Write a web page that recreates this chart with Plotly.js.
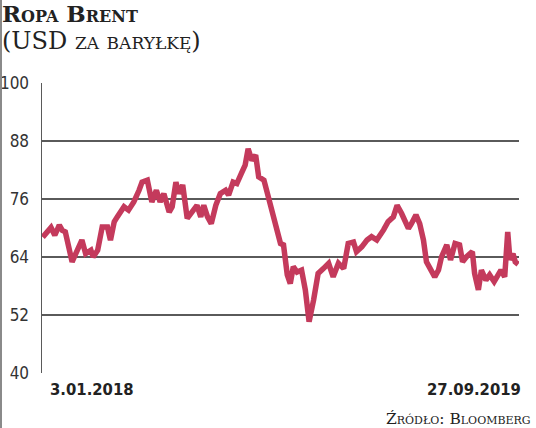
<!DOCTYPE html>
<html>
<head>
<meta charset="utf-8">
<script src="https://cdn.plot.ly/plotly-3.0.1.min.js"></script>
<style>
  html, body { margin: 0; padding: 0; background: #fff; }
  #chart { width: 536px; height: 428px; }
</style>
</head>
<body>
<div id="chart"></div>
<script>
// Brent crude, USD per barrel
var dates = [
  '2018-01-03', '2018-01-14', '2018-01-19', '2018-01-25', '2018-01-29', '2018-02-02',
  '2018-02-11', '2018-02-17', '2018-02-24', '2018-03-01', '2018-03-08', '2018-03-11',
  '2018-03-17', '2018-03-23', '2018-03-30', '2018-04-03', '2018-04-08', '2018-04-12',
  '2018-04-21', '2018-04-27', '2018-05-04', '2018-05-11', '2018-05-15', '2018-05-22',
  '2018-05-28', '2018-06-03', '2018-06-08', '2018-06-13', '2018-06-20', '2018-06-24',
  '2018-06-29', '2018-07-03', '2018-07-08', '2018-07-14', '2018-07-21', '2018-07-27',
  '2018-08-01', '2018-08-05', '2018-08-10', '2018-08-15', '2018-08-21', '2018-08-27',
  '2018-09-03', '2018-09-07', '2018-09-13', '2018-09-18', '2018-09-24', '2018-09-29',
  '2018-10-03', '2018-10-08', '2018-10-13', '2018-10-17', '2018-10-24', '2018-10-30',
  '2018-11-06', '2018-11-10', '2018-11-15', '2018-11-19', '2018-11-24', '2018-11-28',
  '2018-12-02', '2018-12-07', '2018-12-13', '2018-12-18', '2018-12-23', '2018-12-29',
  '2019-01-04', '2019-01-11', '2019-01-18', '2019-01-24', '2019-01-31', '2019-02-07',
  '2019-02-13', '2019-02-20', '2019-02-24', '2019-03-03', '2019-03-10', '2019-03-16',
  '2019-03-23', '2019-04-01', '2019-04-07', '2019-04-14', '2019-04-19', '2019-04-25',
  '2019-04-30', '2019-05-04', '2019-05-08', '2019-05-14', '2019-05-19', '2019-05-24',
  '2019-05-28', '2019-06-02', '2019-06-08', '2019-06-13', '2019-06-17', '2019-06-24',
  '2019-06-29', '2019-07-05', '2019-07-11', '2019-07-15', '2019-07-20', '2019-07-28',
  '2019-07-31', '2019-08-05', '2019-08-09', '2019-08-15', '2019-08-20', '2019-08-26',
  '2019-08-31', '2019-09-04', '2019-09-09', '2019-09-13', '2019-09-16', '2019-09-20',
  '2019-09-23', '2019-09-27'
];
var prices = [
  68.1, 70.1, 68.5, 70.6, 69.5, 69.2,
  63.0, 65.4, 67.5, 64.7, 65.4, 64.0,
  65.4, 70.2, 70.2, 67.5, 71.3, 72.3,
  74.4, 73.7, 75.4, 77.8, 79.5, 79.9,
  75.4, 77.8, 75.4, 77.1, 73.3, 74.4,
  79.5, 77.1, 78.9, 72.0, 73.3, 74.7,
  72.3, 74.7, 72.3, 70.9, 74.7, 77.1,
  77.8, 76.8, 79.5, 79.2, 81.3, 83.0,
  86.4, 84.0, 85.1, 80.6, 79.9, 76.1,
  72.3, 70.2, 66.8, 66.5, 60.3, 58.5,
  62.0, 60.9, 61.3, 57.2, 50.6, 55.1,
  60.6, 61.6, 62.7, 59.9, 62.7, 61.6,
  66.8, 67.1, 65.1, 66.1, 67.5, 68.2,
  67.5, 69.6, 71.3, 72.3, 74.7, 73.0,
  70.9, 69.9, 70.9, 72.7, 70.9, 67.5,
  63.0, 61.3, 59.9, 61.3, 64.0, 66.5,
  63.4, 66.8, 66.5, 63.0, 64.0, 65.1,
  60.6, 57.2, 61.3, 59.2, 60.3, 58.9,
  60.6, 61.3, 59.9, 69.2, 63.4, 64.7,
  63.0, 62.5
];
var yTicks = [40, 52, 64, 76, 88, 100];
var titleLine = 'Ropa Brent';
var unitLine = '(USD za baryłkę)';
var firstLabel = '3.01.2018';
var lastLabel = '27.09.2019';
var sourceText = 'Źródło: Bloomberg';

var lineColor = '#c43a5c';
var gridColor = '#5a5a5a';

var data = [{
  x: dates,
  y: prices,
  type: 'scatter',
  mode: 'lines',
  line: { color: lineColor, width: 5.5, shape: 'linear' },
  hoverinfo: 'x+y'
}];

// plot area in pixels: x 42..519, y 83..373
var W = 477, H = 290;
function px(x) { return (x - 42) / W; }
function py(y) { return (373 - y) / H; }

var layout = {
  width: 536,
  height: 428,
  margin: { l: 42, r: 17, t: 83, b: 55 },
  paper_bgcolor: '#fff',
  plot_bgcolor: '#fff',
  showlegend: false,
  xaxis: {
    type: 'date',
    range: ['2018-01-02', '2019-09-28'],
    showgrid: false,
    zeroline: false,
    showticklabels: false,
    showline: false,
    ticks: ''
  },
  yaxis: {
    range: [40, 100],
    tickvals: yTicks,
    ticktext: yTicks.map(String),
    showgrid: true,
    gridcolor: gridColor,
    gridwidth: 1.5,
    zeroline: false,
    showline: true,
    linecolor: gridColor,
    linewidth: 1.5,
    ticks: '',
    ticklabelstandoff: 8,
    tickfont: { family: 'DejaVu Sans Condensed, DejaVu Sans', size: 17, color: '#333' }
  },
  shapes: [{
    type: 'line', xref: 'paper', yref: 'paper',
    x0: px(1), x1: px(1), y0: py(0), y1: py(428),
    line: { color: '#8a8a8a', width: 2 }
  }],
  annotations: [
    {
      // both heading lines in one block so they keep tight spacing
      text: '<span style="font-size:23px"><b>' + titleLine + '</b></span><br>' +
            '<span style="font-size:24px">' + unitLine + '</span>',
      xref: 'paper', yref: 'paper',
      x: px(1), y: py(28), xanchor: 'left', yanchor: 'middle', align: 'left',
      showarrow: false, borderpad: 0,
      font: { family: 'DejaVu Serif', size: 21, color: '#222', variant: 'small-caps' }
    },
    {
      text: firstLabel, xref: 'x', yref: 'paper',
      x: dates[0], y: py(389), xanchor: 'left', yanchor: 'middle', showarrow: false, xshift: 5,
      font: { family: 'DejaVu Sans Condensed, DejaVu Sans', size: 16.5, color: '#222', weight: 'bold' }
    },
    {
      text: lastLabel, xref: 'x', yref: 'paper',
      x: dates[dates.length - 1], y: py(389), xanchor: 'right', yanchor: 'middle', showarrow: false, xshift: 5,
      font: { family: 'DejaVu Sans Condensed, DejaVu Sans', size: 16.5, color: '#222', weight: 'bold' }
    },
    {
      text: sourceText, xref: 'paper', yref: 'paper',
      x: px(533), y: py(419), xanchor: 'right', yanchor: 'middle', showarrow: false,
      font: { family: 'DejaVu Serif', size: 15.5, color: '#222', variant: 'small-caps' }
    }
  ]
};

Plotly.newPlot('chart', data, layout, { displayModeBar: false, staticPlot: true });
</script>
</body>
</html>
